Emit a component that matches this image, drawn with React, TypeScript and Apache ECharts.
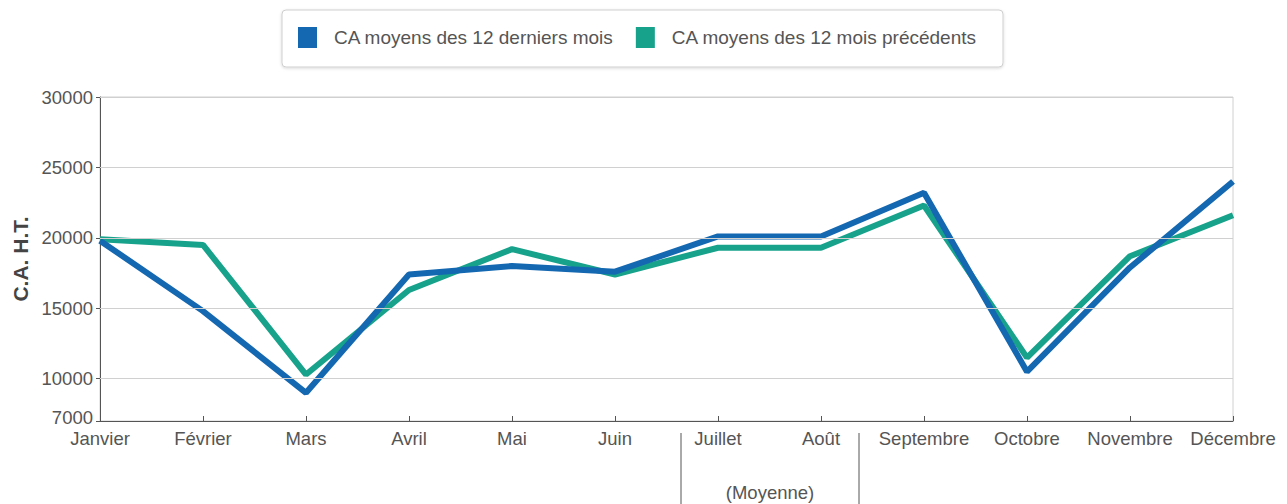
import React, { useEffect, useRef } from "react";
import * as echarts from "echarts";

const months = ["Janvier", "Février", "Mars", "Avril", "Mai", "Juin", "Juillet", "Août", "Septembre", "Octobre", "Novembre", "Décembre"];
const derniers = [19800, 14800, 9000, 17400, 18000, 17600, 20100, 20100, 23200, 10500, 17900, 24000];
const precedents = [19900, 19500, 10300, 16300, 19200, 17400, 19300, 19300, 22300, 11500, 18700, 21600];
const yTicks = [7000, 10000, 15000, 20000, 25000, 30000];
const gridValues = [10000, 15000, 20000, 25000, 30000];
const seriesNames = ["CA moyens des 12 derniers mois", "CA moyens des 12 mois précédents"];

const FONT = "'Liberation Sans', Arial, sans-serif";
const BLUE = "#1467b1";
const TEAL = "#17a28b";
const TXT = "#555";

export default function App() {
  const ref = useRef<HTMLDivElement>(null);
  useEffect(() => {
    document.body.style.margin = "0";
    const chart = echarts.init(ref.current!, null, { renderer: "svg" });
    chart.setOption({
      animation: false,
      textStyle: { fontFamily: FONT },
      grid: { left: 100, right: 54, top: 97, bottom: 83, show: true, borderColor: "#d0d0d0", borderWidth: 1 },
      legend: {
        data: seriesNames,
        left: 298,
        top: 27,
        padding: 0,
        itemWidth: 19,
        itemHeight: 21,
        itemGap: 22,
        icon: "rect",
        textStyle: { fontSize: 19, color: TXT, fontFamily: FONT, padding: [0, 0, 0, 12] },
      },
      xAxis: {
        type: "category",
        data: months,
        boundaryGap: false,
        axisLine: { lineStyle: { color: "#555", width: 1 } },
        axisTick: { inside: true, length: 5, lineStyle: { color: "#555" } },
        axisLabel: { fontSize: 18.5, color: TXT, margin: 8, fontFamily: FONT, interval: 0 },
      },
      yAxis: {
        type: "value",
        min: 7000,
        max: 30000,
        interval: 1000,
        name: "C.A. H.T.",
        nameLocation: "middle",
        nameGap: 62,
        nameRotate: 90,
        nameTextStyle: { fontSize: 21, fontWeight: "bold", color: "#444", fontFamily: FONT },
        axisLine: { show: true, lineStyle: { color: "#555", width: 1 } },
        axisTick: { show: true, length: 4, customValues: yTicks, lineStyle: { color: "#555" } },
        axisLabel: {
          fontSize: 18.5,
          color: TXT,
          margin: 7,
          customValues: yTicks,
          fontFamily: FONT,
          formatter: (v: number) => (v === 7000 ? "{low|" + v + "}" : String(v)),
          rich: {
            low: { fontSize: 18.5, color: TXT, fontFamily: FONT, padding: [0, 0, 8, 0] },
          },
        },
        splitLine: { show: false },
      },
      series: [
        {
          name: "grid",
          type: "line",
          data: [],
          silent: true,
          z: 1,
          markLine: {
            silent: true,
            symbol: "none",
            label: { show: false },
            lineStyle: { color: "#d0d0d0", width: 1, type: "solid" },
            data: gridValues.map((v) => ({ yAxis: v })),
          },
        },
        {
          name: seriesNames[1],
          type: "line",
          data: precedents,
          symbol: "none",
          z: 3,
          itemStyle: { color: TEAL },
          lineStyle: { color: TEAL, width: 6 },
        },
        {
          name: seriesNames[0],
          type: "line",
          data: derniers,
          symbol: "none",
          z: 4,
          itemStyle: { color: BLUE },
          lineStyle: { color: BLUE, width: 6 },
        },
      ],
      graphic: [
        {
          type: "rect",
          z: -10,
          shape: { x: 282, y: 10, width: 721, height: 57, r: 4 },
          style: { fill: "#fff", stroke: "#cfcfcf", lineWidth: 1, shadowBlur: 3, shadowColor: "rgba(0,0,0,0.15)", shadowOffsetY: 1 },
        },
        { type: "line", shape: { x1: 681, y1: 433, x2: 681, y2: 504 }, style: { stroke: "#555", lineWidth: 1 } },
        { type: "line", shape: { x1: 859, y1: 433, x2: 859, y2: 504 }, style: { stroke: "#555", lineWidth: 1 } },
        {
          type: "text",
          x: 770,
          y: 492,
          style: { text: "(Moyenne)", fontSize: 18.5, fill: TXT, fontFamily: FONT, textAlign: "center", textVerticalAlign: "middle" },
        },
      ],
    });
    return () => chart.dispose();
  }, []);
  return <div ref={ref} style={{ width: 1287, height: 504 }} />;
}
